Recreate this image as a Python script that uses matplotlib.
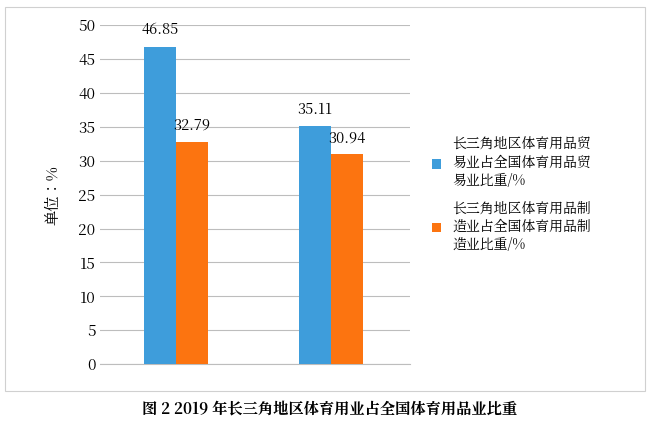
import matplotlib
matplotlib.use("Agg")
import matplotlib.pyplot as plt
from matplotlib.patches import Rectangle
from matplotlib import font_manager as fm

cjk = [f.name for f in fm.fontManager.ttflist if 'CJK' in f.name]
pref = [n for n in cjk if n.endswith('SC')] or cjk
plt.rcParams['font.family'] = 'sans-serif'
plt.rcParams['font.sans-serif'] = (pref[:1] if pref else []) + ['DejaVu Sans']

groups = ["", ""]
trade = [46.85, 35.11]
manuf = [32.79, 30.94]
labels = ["长三角地区体育用品贸\n易业占全国体育用品贸\n易业比重/%", "长三角地区体育用品制\n造业占全国体育用品制\n造业比重/%"]
yticks = [0, 5, 10, 15, 20, 25, 30, 35, 40, 45, 50]

fig = plt.figure(figsize=(6.6, 4.34), dpi=100)
fig.patches.append(Rectangle((0.008, 0.10), 0.97, 0.885, transform=fig.transFigure,
                             fill=False, edgecolor='#d0d0d0', lw=0.8))
ax = fig.add_axes([0.152, 0.161, 0.469, 0.781])
x = list(range(len(groups)))
w = 0.206
b1 = ax.bar([i - w/2 - 0.01 for i in x], trade, w, color='#3e9ddb', label=labels[0], zorder=3)
b2 = ax.bar([i + w/2 - 0.01 for i in x], manuf, w, color='#fc7410', label=labels[1], zorder=3)
for bars in (b1, b2):
    for r in bars:
        ax.text(r.get_x() + r.get_width()/2, r.get_height() + 1.2, f"{r.get_height():.2f}",
                ha='center', va='bottom', fontsize=10.5)
ax.set_xlim(-0.5, 1.5)
ax.set_ylim(0, 50)
ax.set_yticks(yticks)
ax.tick_params(axis='y', length=0, labelsize=11)
ax.set_xticks([])
ax.grid(axis='y', color='#bdbdbd', lw=0.8, zorder=0)
for s in ['top', 'right', 'left']:
    ax.spines[s].set_visible(False)
ax.spines['bottom'].set_color('#bdbdbd')
ax.set_ylabel("单位：%", fontsize=11, labelpad=12)
ax.legend(loc='center left', bbox_to_anchor=(1.03, 0.5), frameon=False, fontsize=10,
          handlelength=0.7, handleheight=0.7, labelspacing=0.8)
fig.text(0.5, 0.045, "图 2 2019 年长三角地区体育用业占全国体育用品业比重", ha='center',
         fontsize=11, fontweight='bold')
fig.savefig("out.png", dpi=100)
